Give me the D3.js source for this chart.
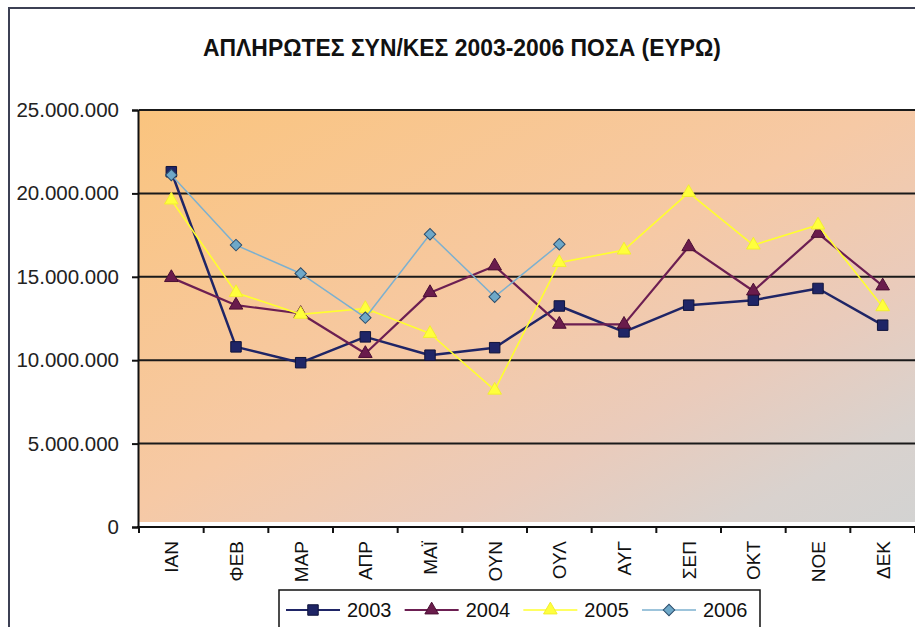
<!DOCTYPE html>
<html>
<head>
<meta charset="utf-8">
<script src="https://cdn.jsdelivr.net/npm/d3@7"></script>
<style>
  body { margin: 0; background: #fff; }
  svg { display: block; }
</style>
</head>
<body>
<svg id="chart" width="915" height="627"></svg>
<script>
// dados (ευρώ)
const months = ["ΙΑΝ", "ΦΕΒ", "ΜΑΡ", "ΑΠΡ", "ΜΑΪ", "ΟΥΝ", "ΟΥΛ", "ΑΥΓ", "ΣΕΠ", "ΟΚΤ", "ΝΟΕ", "ΔΕΚ"];
const years = ["2003", "2004", "2005", "2006"];
const v2003 = [21300000, 10800000, 9850000, 11400000, 10300000, 10750000, 13250000, 11700000, 13300000, 13600000, 14300000, 12100000];
const v2004 = [14950000, 13300000, 12800000, 10400000, 14050000, 15650000, 12150000, 12150000, 16800000, 14150000, 17600000, 14450000];
const v2005 = [19600000, 14050000, 12750000, 13100000, 11600000, 8200000, 15850000, 16600000, 20050000, 16900000, 18100000, 13200000];
const v2006 = [21100000, 16900000, 15200000, 12550000, 17550000, 13800000, 16950000];
const yTicks = [0, 5000000, 10000000, 15000000, 20000000, 25000000];
const title = "ΑΠΛΗΡΩΤΕΣ ΣΥΝ/ΚΕΣ 2003-2006 ΠΟΣΑ (ΕΥΡΩ)";

const width = 915, height = 627;
const pLeft = 139, pRight = 915, pTop = 110, pBottom = 527;

let svg = d3.select("#chart");

// estilos das series
let styles = [
  { name: years[0], values: v2003, line: "#1f2566", lw: 2.5, fill: "#1f2566", stroke: "#10143c", shape: "square" },
  { name: years[1], values: v2004, line: "#6c1f52", lw: 2.2, fill: "#6a1c4c", stroke: "#4a0f33", shape: "triangle" },
  { name: years[2], values: v2005, line: "#ffff2e", lw: 1.6, fill: "#ffff3c", stroke: "#f2ee30", shape: "triangle" },
  { name: years[3], values: v2006, line: "#7cb0cf", lw: 1.5, fill: "#6ea8c8", stroke: "#2c4d6c", shape: "diamond" }
];

let x = d3.scaleBand().domain(months).range([pLeft, pRight]);
let y = d3.scaleLinear().domain([0, 25000000]).range([pBottom, pTop]);
let cx = d => x(d) + x.bandwidth() / 2;

// gradiente do fundo
let defs = svg.append("defs");
let grad = defs.append("linearGradient").attr("id", "bg")
  .attr("x1", 0).attr("y1", 0).attr("x2", 1).attr("y2", 1);
[[0, "#fac47e"], [0.48, "#f6c9a5"], [0.7, "#eacbbb"], [0.88, "#d9d2ce"], [1, "#d3d3d2"]].forEach(s =>
  grad.append("stop").attr("offset", s[0]).attr("stop-color", s[1]));

// moldura
svg.append("line").attr("x1", 8).attr("x2", width).attr("y1", 8).attr("y2", 8)
  .attr("stroke", "#3c4054").attr("stroke-width", 2);
svg.append("line").attr("x1", 9).attr("x2", 9).attr("y1", 7).attr("y2", height)
  .attr("stroke", "#3c4054").attr("stroke-width", 2);

// titulo
svg.append("text")
  .attr("x", 462).attr("y", 56)
  .attr("text-anchor", "middle")
  .attr("font-family", "'Liberation Sans Narrow', 'Liberation Sans', Arial, sans-serif")
  .attr("font-weight", "bold").attr("font-size", 24)
  .attr("textLength", 518).attr("lengthAdjust", "spacingAndGlyphs")
  .attr("fill", "#111")
  .text(title);

// area do grafico
svg.append("rect")
  .attr("x", pLeft).attr("y", pTop)
  .attr("width", pRight - pLeft).attr("height", pBottom - 5 - pTop)
  .attr("fill", "url(#bg)");

// linhas de grade
svg.append("g").selectAll("line")
  .data(yTicks.filter(d => d > 0))
  .enter().append("line")
  .attr("x1", pLeft).attr("x2", pRight)
  .attr("y1", d => y(d)).attr("y2", d => y(d))
  .attr("stroke", "#1a1a1a").attr("stroke-width", 2);

// eixo y
let yAxis = svg.append("g")
  .attr("transform", `translate(${pLeft - 1},0)`)
  .call(d3.axisLeft(y).tickValues(yTicks).tickSize(6).tickPadding(13)
    .tickFormat(d => d3.format(",")(d).replace(/,/g, ".")));
yAxis.select(".domain").attr("stroke", "#111").attr("stroke-width", 2);
yAxis.selectAll(".tick line").attr("stroke", "#111").attr("stroke-width", 2);
yAxis.selectAll(".tick text")
  .attr("font-family", "'Liberation Sans', Arial, sans-serif")
  .attr("font-size", 20.5).attr("fill", "#222");

// eixo x
let xAxis = svg.append("g").attr("transform", `translate(0,${pBottom})`);
xAxis.append("line").attr("x1", pLeft - 2).attr("x2", pRight).attr("stroke", "#111").attr("stroke-width", 2);
xAxis.selectAll(".xt")
  .data(months.map(m => x(m)).concat([x.range()[1]]))
  .enter().append("line").attr("class", "xt")
  .attr("x1", d => d).attr("x2", d => d).attr("y1", 0).attr("y2", 6)
  .attr("stroke", "#111").attr("stroke-width", 2);
xAxis.selectAll(".xl")
  .data(months)
  .enter().append("text").attr("class", "xl")
  .attr("transform", d => `translate(${cx(d)},14) rotate(-90)`)
  .attr("dy", "0.36em")
  .attr("text-anchor", "end")
  .attr("font-family", "'Liberation Sans', Arial, sans-serif")
  .attr("font-size", 19).attr("fill", "#111")
  .text(d => d);

// simbolos
function symbolPath(shape) {
  if (shape === "square") return d3.symbol(d3.symbolSquare, 110)();
  if (shape === "triangle") return d3.symbol(d3.symbolTriangle, 80)();
  return d3.symbol(d3.symbolSquare, 66)();
}
function symbolRot(shape) { return shape === "diamond" ? " rotate(45)" : ""; }

// series
styles.forEach(s => {
  let pts = s.values.map((v, i) => [months[i], v]);
  let line = d3.line().x(d => cx(d[0])).y(d => y(d[1]));
  let g = svg.append("g");
  g.append("path").datum(pts)
    .attr("d", line)
    .attr("fill", "none")
    .attr("stroke", s.line).attr("stroke-width", s.lw)
    .attr("stroke-linejoin", "round");
  g.selectAll("path.m")
    .data(pts)
    .enter().append("path").attr("class", "m")
    .attr("d", symbolPath(s.shape))
    .attr("transform", d => `translate(${cx(d[0])},${y(d[1])})${symbolRot(s.shape)}`)
    .attr("fill", s.fill).attr("stroke", s.stroke).attr("stroke-width", 1);
});

// legenda
let legend = svg.append("g");
legend.append("rect")
  .attr("x", 279).attr("y", 590).attr("width", 481).attr("height", 50)
  .attr("fill", "#fff").attr("stroke", "#111").attr("stroke-width", 1.5);
let legX = d3.scalePoint().domain(years).range([286, 642]);
let items = legend.selectAll("g.item")
  .data(styles)
  .enter().append("g").attr("class", "item")
  .attr("transform", d => `translate(${legX(d.name)},610)`);
items.append("line")
  .attr("x1", 0).attr("x2", 54)
  .attr("stroke", d => d.line).attr("stroke-width", d => Math.min(d.lw, 2));
items.append("path")
  .attr("d", d => symbolPath(d.shape))
  .attr("transform", d => `translate(27,0)${symbolRot(d.shape)}`)
  .attr("fill", d => d.fill).attr("stroke", d => d.stroke);
items.append("text")
  .attr("x", 61).attr("dy", "0.36em")
  .attr("font-family", "'Liberation Sans', Arial, sans-serif")
  .attr("font-size", 20).attr("fill", "#111")
  .text(d => d.name);
</script>
</body>
</html>
